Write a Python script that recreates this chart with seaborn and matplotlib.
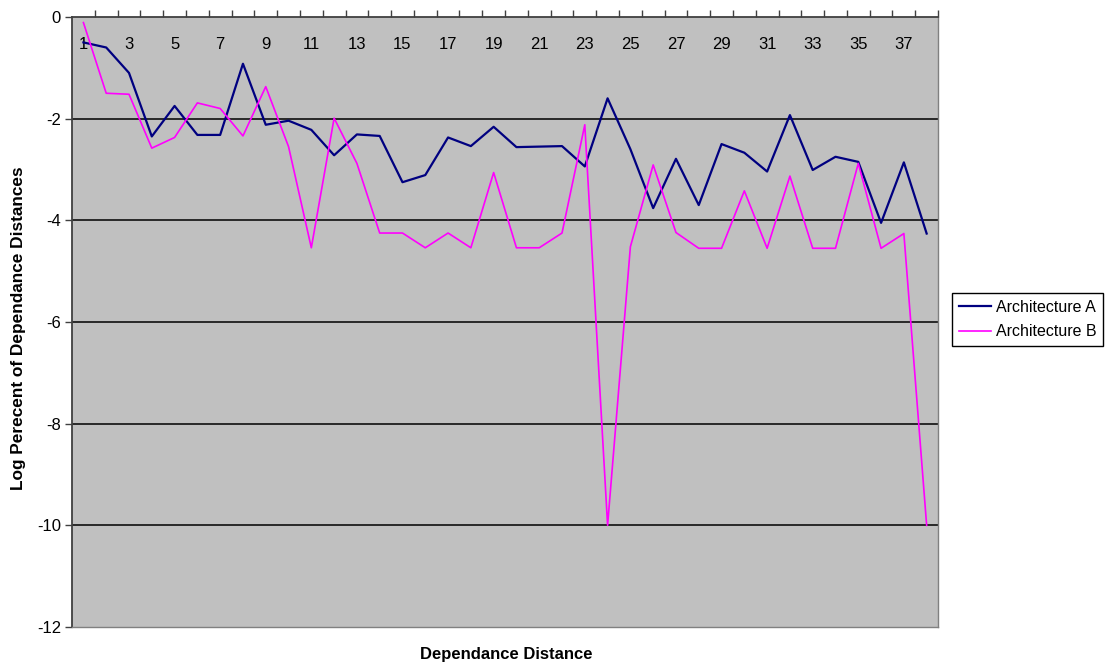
import numpy as np
import pandas as pd
import seaborn as sns
import matplotlib
matplotlib.use('Agg')
import matplotlib.pyplot as plt
from matplotlib.ticker import FixedLocator, NullFormatter

# values
distance = list(range(1, 39))
arch_a = [-0.50, -0.60, -1.10, -2.35, -1.75, -2.32, -2.32, -0.92, -2.12, -2.04,
          -2.22, -2.72, -2.31, -2.34, -3.25, -3.11, -2.37, -2.54, -2.16, -2.56,
          -2.55, -2.54, -2.94, -1.60, -2.60, -3.76, -2.79, -3.70, -2.50, -2.67,
          -3.04, -1.93, -3.01, -2.75, -2.85, -4.05, -2.86, -4.26]
arch_b = [-0.11, -1.50, -1.52, -2.58, -2.37, -1.69, -1.80, -2.34, -1.37, -2.55,
          -4.54, -1.99, -2.88, -4.25, -4.25, -4.54, -4.25, -4.54, -3.06, -4.54,
          -4.54, -4.25, -2.12, -10.0, -4.52, -2.91, -4.24, -4.55, -4.55, -3.42,
          -4.55, -3.13, -4.55, -4.55, -2.88, -4.55, -4.26, -10.0]
series_names = ['Architecture A', 'Architecture B']
y_ticks = [0, -2, -4, -6, -8, -10, -12]

df = pd.DataFrame({
    'distance': distance * 2,
    'value': arch_a + arch_b,
    'series': [series_names[0]] * len(arch_a) + [series_names[1]] * len(arch_b),
})

plt.rcParams['font.family'] = ['Liberation Sans', 'DejaVu Sans']

fig = plt.figure(figsize=(11.15, 6.69), dpi=100)
ax = fig.add_axes([0.0646, 0.0628, 0.7767, 0.9118])
ax.set_facecolor('#C0C0C0')

sns.lineplot(data=df, x='distance', y='value', hue='series',
             palette={series_names[0]: '#000080', series_names[1]: '#FF00FF'},
             ax=ax, legend=False)
lines = ax.get_lines()
lines[0].set_linewidth(1.6)
lines[1].set_linewidth(1.2)

ax.set_xlim(0.5, len(distance) + 0.5)
ax.set_ylim(-12, 0)

# y axis
ax.set_yticks(y_ticks)
ax.set_yticklabels([str(v) for v in y_ticks], fontsize=12)
ax.tick_params(axis='y', direction='out', length=5, width=1, color='#404040', pad=3)
for v in y_ticks[1:-1]:
    ax.axhline(v, color='black', linewidth=1.1, zorder=1)

# x axis on top: tick marks between categories, labels on odd categories inside
ax.xaxis.tick_top()
ax.xaxis.set_major_locator(FixedLocator([d + 0.5 for d in distance]))
ax.xaxis.set_major_formatter(NullFormatter())
ax.xaxis.set_minor_locator(FixedLocator(distance[::2]))
ax.set_xticklabels([str(d) for d in distance[::2]], minor=True, fontsize=12)
ax.tick_params(axis='x', which='major', direction='out', length=5, width=1,
               color='#404040', top=True, bottom=False)
ax.tick_params(axis='x', which='minor', length=0, top=True, bottom=False,
               labeltop=True, labelbottom=False, pad=-25)

for side in ['left', 'top']:
    ax.spines[side].set_color('#404040')
    ax.spines[side].set_linewidth(1.3)
for side in ['right', 'bottom']:
    ax.spines[side].set_color('#808080')
    ax.spines[side].set_linewidth(1.0)

ax.set_xlabel('')
ax.set_ylabel('')
fig.text(0.4538, 0.021, 'Dependance Distance', ha='center', va='center',
         fontsize=12, fontweight='bold')
fig.text(0.0166, 0.51, 'Log Perecent of Dependance Distances', ha='center',
         va='center', rotation=90, fontsize=12.4, fontweight='bold')

leg = fig.legend(handles=lines, labels=series_names, loc='center left',
                 bbox_to_anchor=(0.854, 0.5225), fontsize=11.5, frameon=True,
                 fancybox=False, edgecolor='black', framealpha=1,
                 handlelength=2.0, handletextpad=0.35, borderpad=0.4,
                 labelspacing=0.6, borderaxespad=0)
leg.get_frame().set_linewidth(1.0)

fig.savefig('out.png', dpi=100)
